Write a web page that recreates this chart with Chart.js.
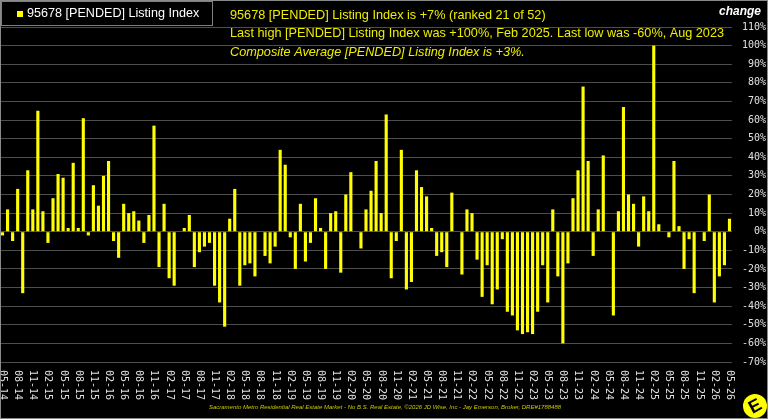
<!DOCTYPE html>
<html>
<head>
<meta charset="utf-8">
<script src="https://cdn.jsdelivr.net/npm/chart.js@4/dist/chart.umd.min.js"></script>
<style>
    html, body { margin: 0; padding: 0; background: #000; }
    #wrap { width: 768px; height: 419px; }
</style>
</head>
<body>
<div id="wrap"><canvas id="chart" width="768" height="419"></canvas></div>
<script>
// Données : variation mensuelle de l'index (%), de 05-2014 à 05-2026
const debutAnnee = 2014;
const debutMois = 5;
const variations = [
    -2, 12, -5, 23, -33, 33, 12, 65, 11, -6,
    18, 31, 29, 2, 37, 2, 61, -2, 25, 14,
    30, 38, -5, -14, 15, 10, 11, 6, -6, 9,
    57, -19, 15, -25, -29, 0, 2, 9, -19, -11,
    -8, -6, -29, -38, -51, 7, 23, -29, -18, -17,
    -24, 0, -13, -17, -8, 44, 36, -3, -20, 15,
    -16, -6, 18, 2, -20, 10, 11, -22, 20, 32,
    0, -9, 12, 22, 38, 10, 63, -25, -5, 44,
    -31, -27, 33, 24, 19, 2, -13, -11, -19, 21,
    0, -23, 12, 10, -15, -35, -18, -39, -31, -4,
    -43, -45, -53, -55, -54, -55, -43, -18, -38, 12,
    -24, -60, -17, 18, 33, 78, 38, -13, 12, 41,
    0, -45, 11, 67, 20, 15, -8, 19, 11, 100,
    4, 0, -3, 38, 3, -20, -4, -33, 0, -5,
    20, -38, -24, -18, 7
];

// Étiquettes des mois "MM-AA"
const mois = variations.map((v, i) => {
    const m = (debutMois - 1 + i) % 12 + 1;
    const a = debutAnnee + Math.floor((debutMois - 1 + i) / 12);
    return String(m).padStart(2, '0') + '-' + String(a % 100).padStart(2, '0');
});

// Textes de l'en-tête
const nomSerie = '95678 [PENDED] Listing Index';
const lignesTitre = [
    '95678 [PENDED] Listing Index is +7% (ranked 21 of 52)',
    'Last high [PENDED] Listing Index was +100%, Feb 2025. Last low was -60%, Aug 2023',
    'Composite Average [PENDED] Listing Index is +3%.'
];
const piedDePage = 'Sacramento Metro Residential Real Estate Market - No B.S. Real Estate, \u00a92026 JD Wise, Inc - Jay Emerson, Broker, DRE#1788488';

const JAUNE = '#ffff00';
const JAUNE_TEXTE = '#eeee00';

// Plugin qui dessine le fond, les étiquettes verticales, le titre et le cadre
const decor = {
    id: 'decor',
    beforeDraw(chart) {
        const ctx = chart.ctx;
        ctx.save();
        ctx.fillStyle = '#000';
        ctx.fillRect(0, 0, chart.width, chart.height);
        ctx.restore();
    },
    afterDraw(chart) {
        const ctx = chart.ctx;
        const x = chart.scales.x;
        ctx.save();

        // Étiquettes des mois, tous les 3 mois, tournées vers le bas
        ctx.font = '10px "DejaVu Sans Mono"';
        ctx.fillStyle = '#e0e0e0';
        ctx.textAlign = 'left';
        ctx.textBaseline = 'middle';
        mois.forEach((lab, i) => {
            if (i % 3 !== 0) return;
            ctx.save();
            ctx.translate(x.getPixelForValue(i), 370);
            ctx.rotate(Math.PI / 2);
            ctx.fillText(lab, 0, 0);
            ctx.restore();
        });

        // Boîte de légende
        ctx.fillStyle = '#000';
        ctx.fillRect(1, 1, 211, 25);
        ctx.strokeStyle = '#808080';
        ctx.lineWidth = 1;
        ctx.strokeRect(1.5, 1.5, 211, 24);
        ctx.fillStyle = JAUNE;
        ctx.fillRect(17, 11, 6, 6);
        ctx.fillStyle = '#ffffff';
        ctx.font = '12.6px "Liberation Sans", Arial';
        ctx.fillText(nomSerie, 27, 14);

        // Lignes du titre
        ctx.fillStyle = JAUNE_TEXTE;
        ctx.font = '12.7px "Liberation Sans", Arial';
        ctx.fillText(lignesTitre[0], 230, 15);
        ctx.fillText(lignesTitre[1], 230, 33);
        ctx.font = 'italic 12.7px "Liberation Sans", Arial';
        ctx.fillText(lignesTitre[2], 230, 52);

        // "change" en haut à droite
        ctx.fillStyle = '#ffffff';
        ctx.textAlign = 'right';
        ctx.font = 'italic bold 12px "Liberation Sans", Arial';
        ctx.fillText('change', 761, 12);

        // Pied de page
        ctx.textAlign = 'center';
        ctx.fillStyle = '#c8c800';
        ctx.font = 'italic 6px "Liberation Sans", Arial';
        ctx.fillText(piedDePage, 385, 407);

        // Petit logo rond
        ctx.beginPath();
        ctx.arc(755, 406, 12, 0, Math.PI * 2);
        ctx.fillStyle = JAUNE;
        ctx.fill();
        ctx.save();
        ctx.translate(755, 406);
        ctx.rotate(-0.5);
        ctx.fillStyle = '#000';
        ctx.font = 'bold 18px "Liberation Sans", Arial';
        ctx.textBaseline = 'middle';
        ctx.fillText('E', 0, 1);
        ctx.restore();

        // Cadre
        ctx.strokeStyle = '#8a8a8a';
        ctx.strokeRect(0.5, 0.5, 767, 418);
        ctx.restore();
    }
};

// Crée et configure le graphique
const chart = new Chart(document.getElementById('chart'), {
    type: 'bar',
    data: {
        labels: mois,
        datasets: [{
            label: nomSerie,
            data: variations,
            backgroundColor: JAUNE,
            borderWidth: 0,
            barPercentage: 0.62,
            categoryPercentage: 1,
        }],
    },
    options: {
        responsive: false,
        animation: false,
        layout: { padding: { top: 27, bottom: 57, left: 0, right: 2 } },
        plugins: {
            legend: { display: false },
            tooltip: { enabled: false },
        },
        scales: {
            x: {
                display: false,
                offset: true,
            },
            y: {
                position: 'right',
                min: -70,
                max: 110,
                afterFit(scale) { scale.width = 34; },
                border: { display: false },
                grid: { color: '#4d4d4d', lineWidth: 1, drawTicks: false },
                ticks: {
                    stepSize: 10,
                    crossAlign: 'far',
                    color: '#e0e0e0',
                    font: { family: 'DejaVu Sans Mono', size: 10 },
                    callback: v => v + '%',
                },
            },
        },
    },
    plugins: [decor],
});
</script>
</body>
</html>
